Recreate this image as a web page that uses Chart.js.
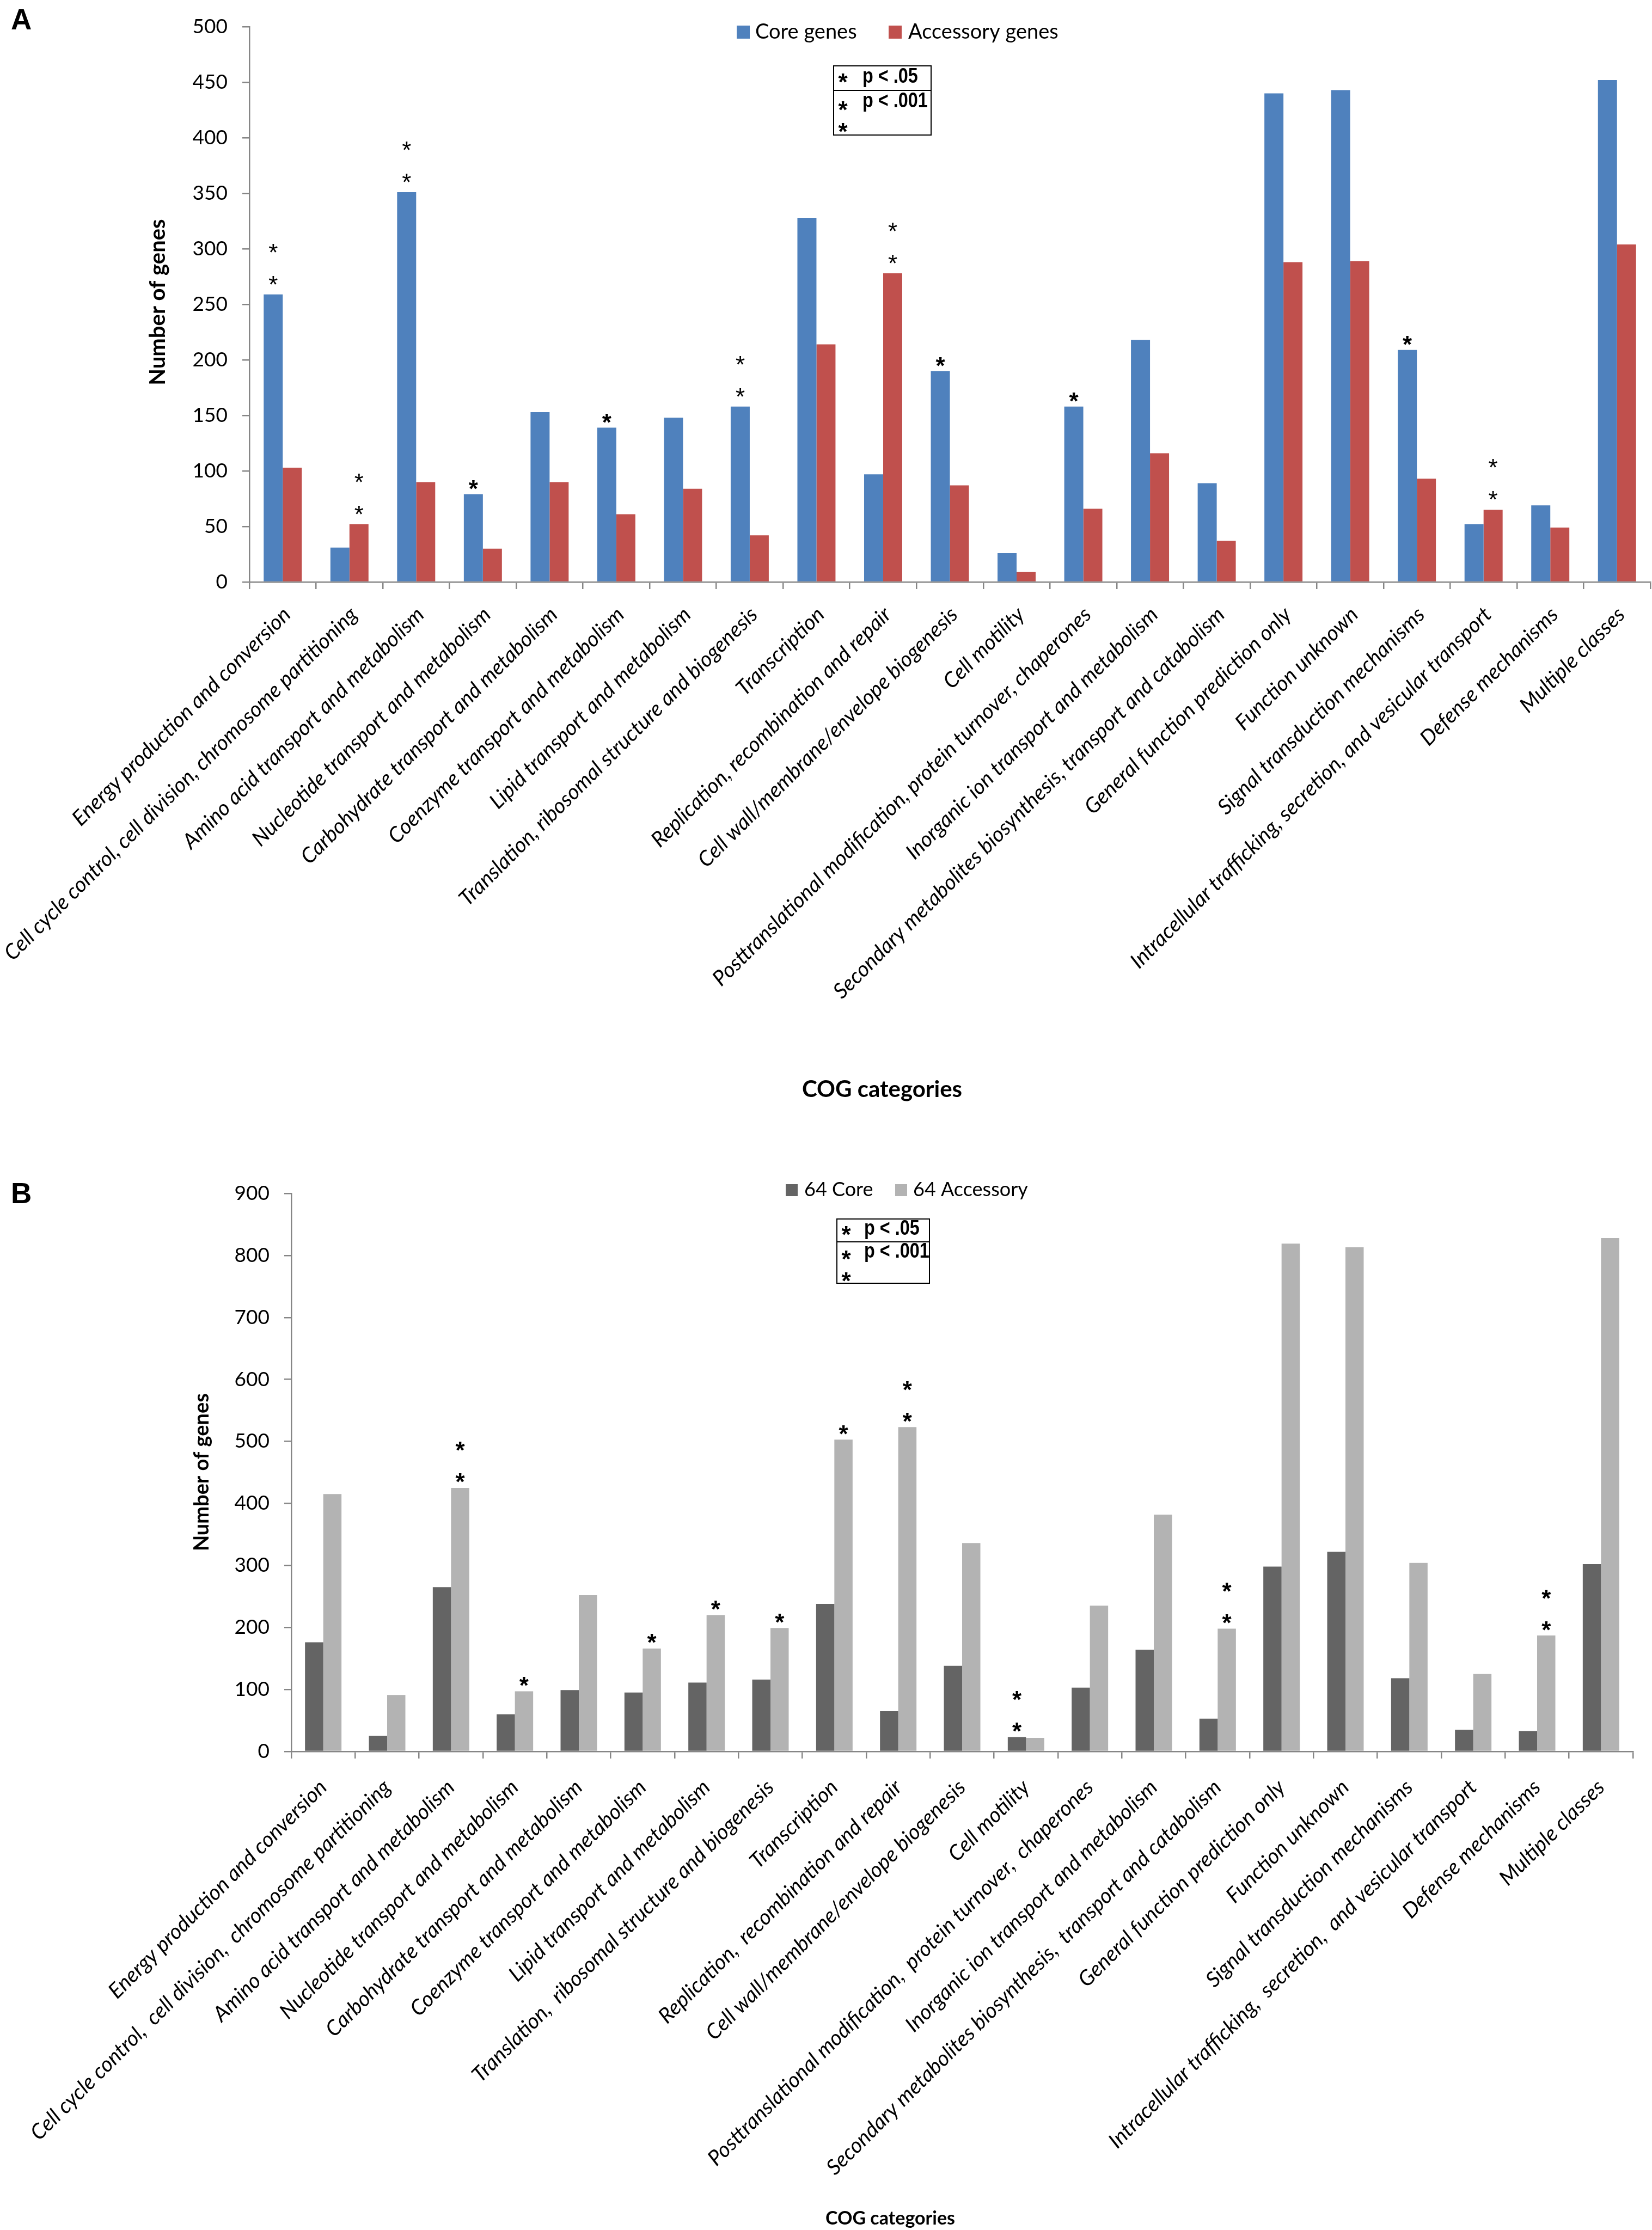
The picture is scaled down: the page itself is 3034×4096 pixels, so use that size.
<!DOCTYPE html>
<html><head><meta charset="utf-8">
<script src="https://cdn.jsdelivr.net/npm/chart.js@4.4.1/dist/chart.umd.min.js"></script>
<style>
html,body{margin:0;padding:0;background:#fff;}
body{width:3034px;height:4096px;position:relative;overflow:hidden;}
canvas{position:absolute;left:0;}
#cA{top:0;} #cB{top:2060px;}
</style></head><body>
<canvas id="cA" width="3034" height="2060"></canvas>
<canvas id="cB" width="3034" height="2036"></canvas>
<script>
const categoriesA = [
  "Energy production and conversion",
  "Cell cycle control, cell division, chromosome partitioning",
  "Amino acid transport and metabolism",
  "Nucleotide transport and metabolism",
  "Carbohydrate transport and metabolism",
  "Coenzyme transport and metabolism",
  "Lipid transport and metabolism",
  "Translation, ribosomal structure and biogenesis",
  "Transcription",
  "Replication, recombination and repair",
  "Cell wall/membrane/envelope biogenesis",
  "Cell motility",
  "Posttranslational modification, protein turnover, chaperones",
  "Inorganic ion transport and metabolism",
  "Secondary metabolites biosynthesis, transport and catabolism",
  "General function prediction only",
  "Function unknown",
  "Signal transduction mechanisms",
  "Intracellular trafficking, secretion, and vesicular transport",
  "Defense mechanisms",
  "Multiple classes"
];
const categoriesB = [
  "Energy production and conversion",
  "Cell cycle control,  cell division,  chromosome partitioning",
  "Amino acid transport and metabolism",
  "Nucleotide transport and metabolism",
  "Carbohydrate transport and metabolism",
  "Coenzyme transport and metabolism",
  "Lipid transport and metabolism",
  "Translation,  ribosomal structure and biogenesis",
  "Transcription",
  "Replication,  recombination and repair",
  "Cell wall/membrane/envelope biogenesis",
  "Cell motility",
  "Posttranslational modification,  protein turnover,  chaperones",
  "Inorganic ion transport and metabolism",
  "Secondary metabolites biosynthesis,  transport and catabolism",
  "General function prediction only",
  "Function unknown",
  "Signal transduction mechanisms",
  "Intracellular trafficking,  secretion,  and vesicular transport",
  "Defense mechanisms",
  "Multiple classes"
];
const seriesNamesA = ["Core genes", "Accessory genes"];
const coreA = [259,31,351,79,153,139,148,158,328,97,190,26,158,218,89,440,443,209,52,69,452];
const accA  = [103,52,90,30,90,61,84,42,214,278,87,9,66,116,37,288,289,93,65,49,304];
const sigCoreA = ["**","","**","*","","*","","**","","","*","","*","","","","","*","","",""];
const sigAccA  = ["","**","","","","","","","","**","","","","","","","","","**","",""];

const seriesNamesB = ["64 Core", "64 Accessory"];
const core64 = [176,25,265,60,99,95,111,116,238,65,138,23,103,164,53,298,322,118,35,33,302];
const acc64  = [415,91,425,97,252,166,220,199,503,523,336,22,235,382,198,819,813,304,125,187,828];
const sigCore64 = ["","","","","","","","","","","","**","","","","","","","","",""];
const sigAcc64  = ["","","**","*","","*","*","*","*","**","","","","","**","","","","","**",""];

const yTicksA = [0,50,100,150,200,250,300,350,400,450,500];
const yTicksB = [0,100,200,300,400,500,600,700,800,900];
const pLegend = ["p < .05", "p < .001"];
const axisTitleY = "Number of genes";
const axisTitleX = "COG categories";

const AXIS = '#868686';

function drawStar(ctx, x, cy, bold, size) {
  ctx.font = (bold ? 'bold ' : '') + size + 'px "Liberation Sans", Arial, sans-serif';
  const m = ctx.measureText('*');
  const base = cy + (m.actualBoundingBoxAscent - m.actualBoundingBoxDescent) / 2;
  ctx.textAlign = 'center';
  ctx.textBaseline = 'alphabetic';
  ctx.fillText('*', x, base);
}

const overlay = {
  id: 'overlay',
  afterDraw(chart, args, o) {
    const ctx = chart.ctx;
    ctx.save();
    ctx.fillStyle = '#000';
    ctx.font = 'bold 53px "Liberation Sans", Arial, sans-serif';
    ctx.textAlign = 'left'; ctx.textBaseline = 'alphabetic';
    ctx.fillText(o.letter, o.letterX, o.letterY);
    chart.data.datasets.forEach((ds, i) => {
      const L = o.legend[i];
      ctx.fillStyle = ds.backgroundColor;
      ctx.fillRect(L.sx, o.legendSqY, o.legendSq, o.legendSq);
      ctx.fillStyle = '#000';
      ctx.font = o.legendFont + 'px Lato, sans-serif';
      ctx.textAlign = 'left'; ctx.textBaseline = 'alphabetic';
      ctx.fillText(ds.label, L.tx, o.legendTextY);
    });
    const b = o.box;
    ctx.strokeStyle = '#000'; ctx.lineWidth = 2;
    ctx.strokeRect(b.x, b.y, b.w, b.h);
    ctx.beginPath(); ctx.moveTo(b.x, b.div); ctx.lineTo(b.x + b.w, b.div); ctx.stroke();
    ctx.fillStyle = '#000';
    drawStar(ctx, b.starX, b.star1, true, 44);
    drawStar(ctx, b.starX, b.star2, true, 44);
    drawStar(ctx, b.starX, b.star3, true, 44);
    ctx.font = 'bold 39px "Liberation Sans", Arial, sans-serif';
    ctx.textAlign = 'left'; ctx.textBaseline = 'alphabetic';
    [[pLegend[0], b.t1], [pLegend[1], b.t2]].forEach(([t, y]) => {
      ctx.save(); ctx.translate(b.textX, y); ctx.scale(0.83, 1); ctx.fillText(t, 0, 0); ctx.restore();
    });
    ctx.save();
    ctx.translate(o.yTitleX, o.yTitleCY);
    ctx.rotate(-Math.PI / 2);
    ctx.font = 'bold ' + o.yTitleFont + 'px Lato, sans-serif';
    ctx.textAlign = 'center'; ctx.textBaseline = 'alphabetic';
    ctx.fillText(axisTitleY, 0, 0);
    ctx.restore();
    ctx.font = 'bold ' + o.xTitleFont + 'px Lato, sans-serif';
    ctx.textAlign = 'center'; ctx.textBaseline = 'alphabetic';
    ctx.fillText(axisTitleX, o.xTitleX, o.xTitleY);
    o.sig.forEach((arr, di) => {
      const meta = chart.getDatasetMeta(di);
      arr.forEach((s, i) => {
        if (!s) return;
        const bar = meta.data[i];
        if (s === '*') {
          drawStar(ctx, bar.x, bar.y - o.single, true, 44);
        } else {
          drawStar(ctx, bar.x, bar.y - o.dblLow, o.dblBold, 44);
          drawStar(ctx, bar.x, bar.y - o.dblHigh, o.dblBold, 44);
        }
      });
    });
    ctx.restore();
  }
};

function makeChart(id, labels, names, d0, d1, colors, ticks, cfg) {
  return new Chart(document.getElementById(id), {
    type: 'bar',
    data: {
      labels: labels,
      datasets: [
        { label: names[0], data: d0, backgroundColor: colors[0], categoryPercentage: 0.571, barPercentage: 1.0 },
        { label: names[1], data: d1, backgroundColor: colors[1], categoryPercentage: 0.571, barPercentage: 1.0 }
      ]
    },
    options: {
      responsive: false, animation: false, devicePixelRatio: 1,
      layout: { padding: cfg.padding },
      plugins: { legend: { display: false }, tooltip: { enabled: false }, overlay: cfg.overlay },
      scales: {
        x: {
          afterFit(s) { s.height = cfg.xHeight; },
          grid: { display: true, drawOnChartArea: false, drawTicks: true, tickLength: 13, color: AXIS, lineWidth: 2.5, offset: true },
          border: { display: true, color: AXIS, width: 2.5 },
          ticks: { autoSkip: false, minRotation: 45, maxRotation: 45, padding: cfg.xPad, labelOffset: cfg.xOff, color: '#000',
                   font: { family: 'Lato', style: 'italic', size: cfg.xFont } }
        },
        y: {
          afterFit(s) { s.width = cfg.yWidth; },
          min: ticks[0], max: ticks[ticks.length - 1],
          grid: { display: true, drawOnChartArea: false, drawTicks: true, tickLength: 13, color: AXIS, lineWidth: 2.5 },
          border: { display: true, color: AXIS, width: 2.5 },
          ticks: { stepSize: ticks[1] - ticks[0], padding: 27, color: '#000', font: { family: 'Lato', size: 37 } }
        }
      }
    },
    plugins: [overlay]
  });
}

Promise.all([
  document.fonts.load('37px Lato'), document.fonts.load('italic 41px Lato'),
  document.fonts.load('bold 40px Lato'), document.fonts.load('bold 40px "Liberation Sans"'),
  document.fonts.load('40px "Liberation Sans"')
]).catch(() => {}).then(() => {
  makeChart('cA', categoriesA, seriesNamesA, coreA, accA, ['#4F81BD', '#C0504D'], yTicksA, {
    padding: { left: 0, right: 3, top: 41, bottom: 0 },
    xHeight: 991, yWidth: 458, xPad: 24, xOff: 8, xFont: 39,
    overlay: {
      letter: 'A', letterX: 20, letterY: 54,
      legend: [{ sx: 1353, tx: 1387 }, { sx: 1632, tx: 1668 }],
      legendSqY: 47, legendSq: 24, legendTextY: 71, legendFont: 38,
      box: { x: 1531, y: 121, w: 179, h: 127, div: 166, starX: 1548, star1: 143, star2: 194, star3: 234, textX: 1584, t1: 152, t2: 197 },
      yTitleX: 303, yTitleCY: 555, yTitleFont: 40,
      xTitleX: 1620, xTitleY: 2015, xTitleFont: 42,
      sig: [sigCoreA, sigAccA], single: 17, dblLow: 26, dblHigh: 85, dblBold: false
    }
  });
  makeChart('cB', categoriesB, seriesNamesB, core64, acc64, ['#646464', '#B3B3B3'], yTicksB, {
    padding: { left: 0, right: 35, top: 132, bottom: 0 },
    xHeight: 879, yWidth: 535, xPad: 30, xOff: 0, xFont: 39,
    overlay: {
      letter: 'B', letterX: 20, letterY: 150,
      legend: [{ sx: 1443, tx: 1477 }, { sx: 1644, tx: 1677 }],
      legendSqY: 115, legendSq: 22, legendTextY: 137, legendFont: 36,
      box: { x: 1537, y: 179, w: 170, h: 118, div: 221, starX: 1554, star1: 200, star2: 245, star3: 285, textX: 1587, t1: 208, t2: 250 },
      yTitleX: 383, yTitleCY: 644, yTitleFont: 38,
      xTitleX: 1635, xTitleY: 2026, xTitleFont: 34,
      sig: [sigCore64, sigAcc64], single: 18, dblLow: 18, dblHigh: 76, dblBold: true
    }
  });
});
</script>
</body></html>
